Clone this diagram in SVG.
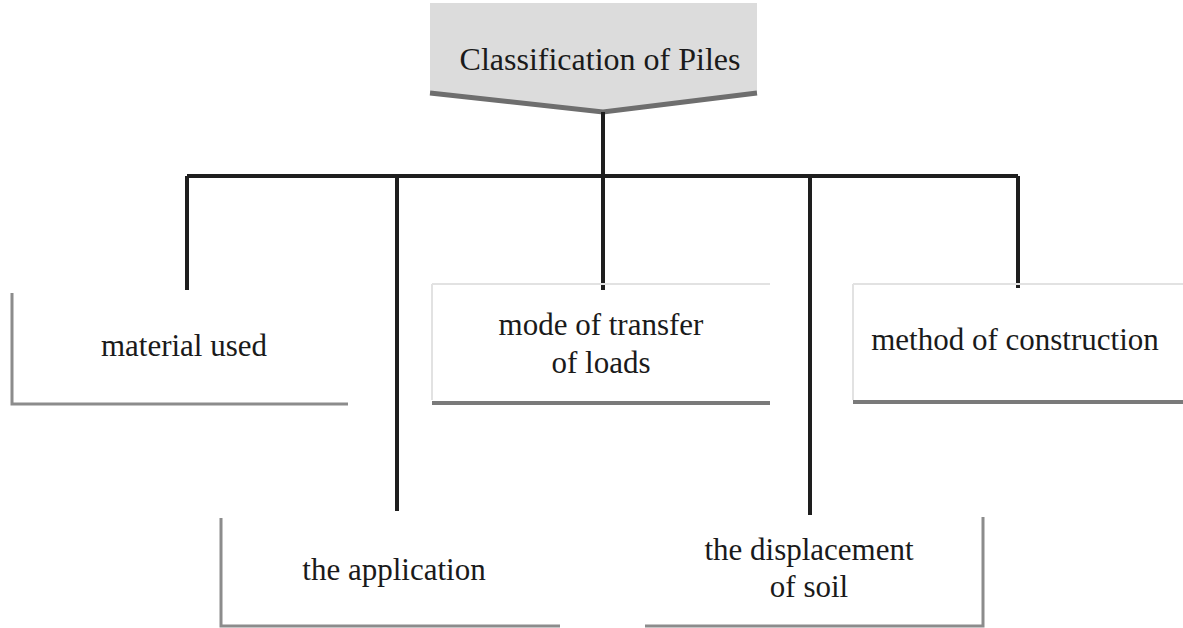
<svg xmlns="http://www.w3.org/2000/svg" width="1183" height="628" viewBox="0 0 1183 628">
<style>
.t{font-family:"Liberation Serif","Times New Roman",serif;font-size:31px;fill:#1a1a1a;text-anchor:middle}
.edge{stroke:#8c8c8c;stroke-width:3;fill:none}
.dark{stroke:#7a7a7a;stroke-width:4;fill:none}
.faint{stroke:#e2e2e2;stroke-width:2;fill:none}
.conn{stroke:#1e1e1e;stroke-width:4;fill:none}
</style>
<rect width="1183" height="628" fill="#ffffff"/>
<g id="root">
<path d="M430 3 H757 V93 L603 112 L430 93 Z" fill="#dcdcdc"/>
<path d="M430 93 L603 112 L757 93" stroke="#6e6e6e" stroke-width="5" fill="none"/>
<text x="600" y="70" class="t" style="font-size:32px">Classification of Piles</text>
</g>
<g id="connectors">
<path class="conn" d="M603 112 V176"/>
<path class="conn" d="M187 176 H1018"/>
<path class="conn" d="M187 176 V290"/>
<path class="conn" d="M397 176 V511"/>
<path class="conn" d="M603 176 V290"/>
<path class="conn" d="M810 176 V515"/>
<path class="conn" d="M1018 176 V288"/>
</g>
<g id="material">
<path class="edge" d="M12 293 V404 H348"/>
<text x="184" y="356" class="t">material used</text>
</g>
<g id="mode">
<path class="faint" d="M432 284 H770 M432 284 V400"/>
<path class="dark" d="M432 403 H770"/>
<text x="601" y="335" class="t">mode of transfer</text>
<text x="601" y="373" class="t">of loads</text>
</g>
<g id="method">
<path class="faint" d="M853 284 H1183 M853 284 V400"/>
<path class="dark" d="M853 402 H1183"/>
<text x="1015" y="350" class="t">method of construction</text>
</g>
<g id="application">
<path class="edge" d="M221 518 V626 H560"/>
<text x="394" y="580" class="t">the application</text>
</g>
<g id="displacement">
<path class="edge" d="M645 626 H983 V517"/>
<text x="809" y="560" class="t">the displacement</text>
<text x="809" y="597" class="t">of soil</text>
</g>
</svg>
